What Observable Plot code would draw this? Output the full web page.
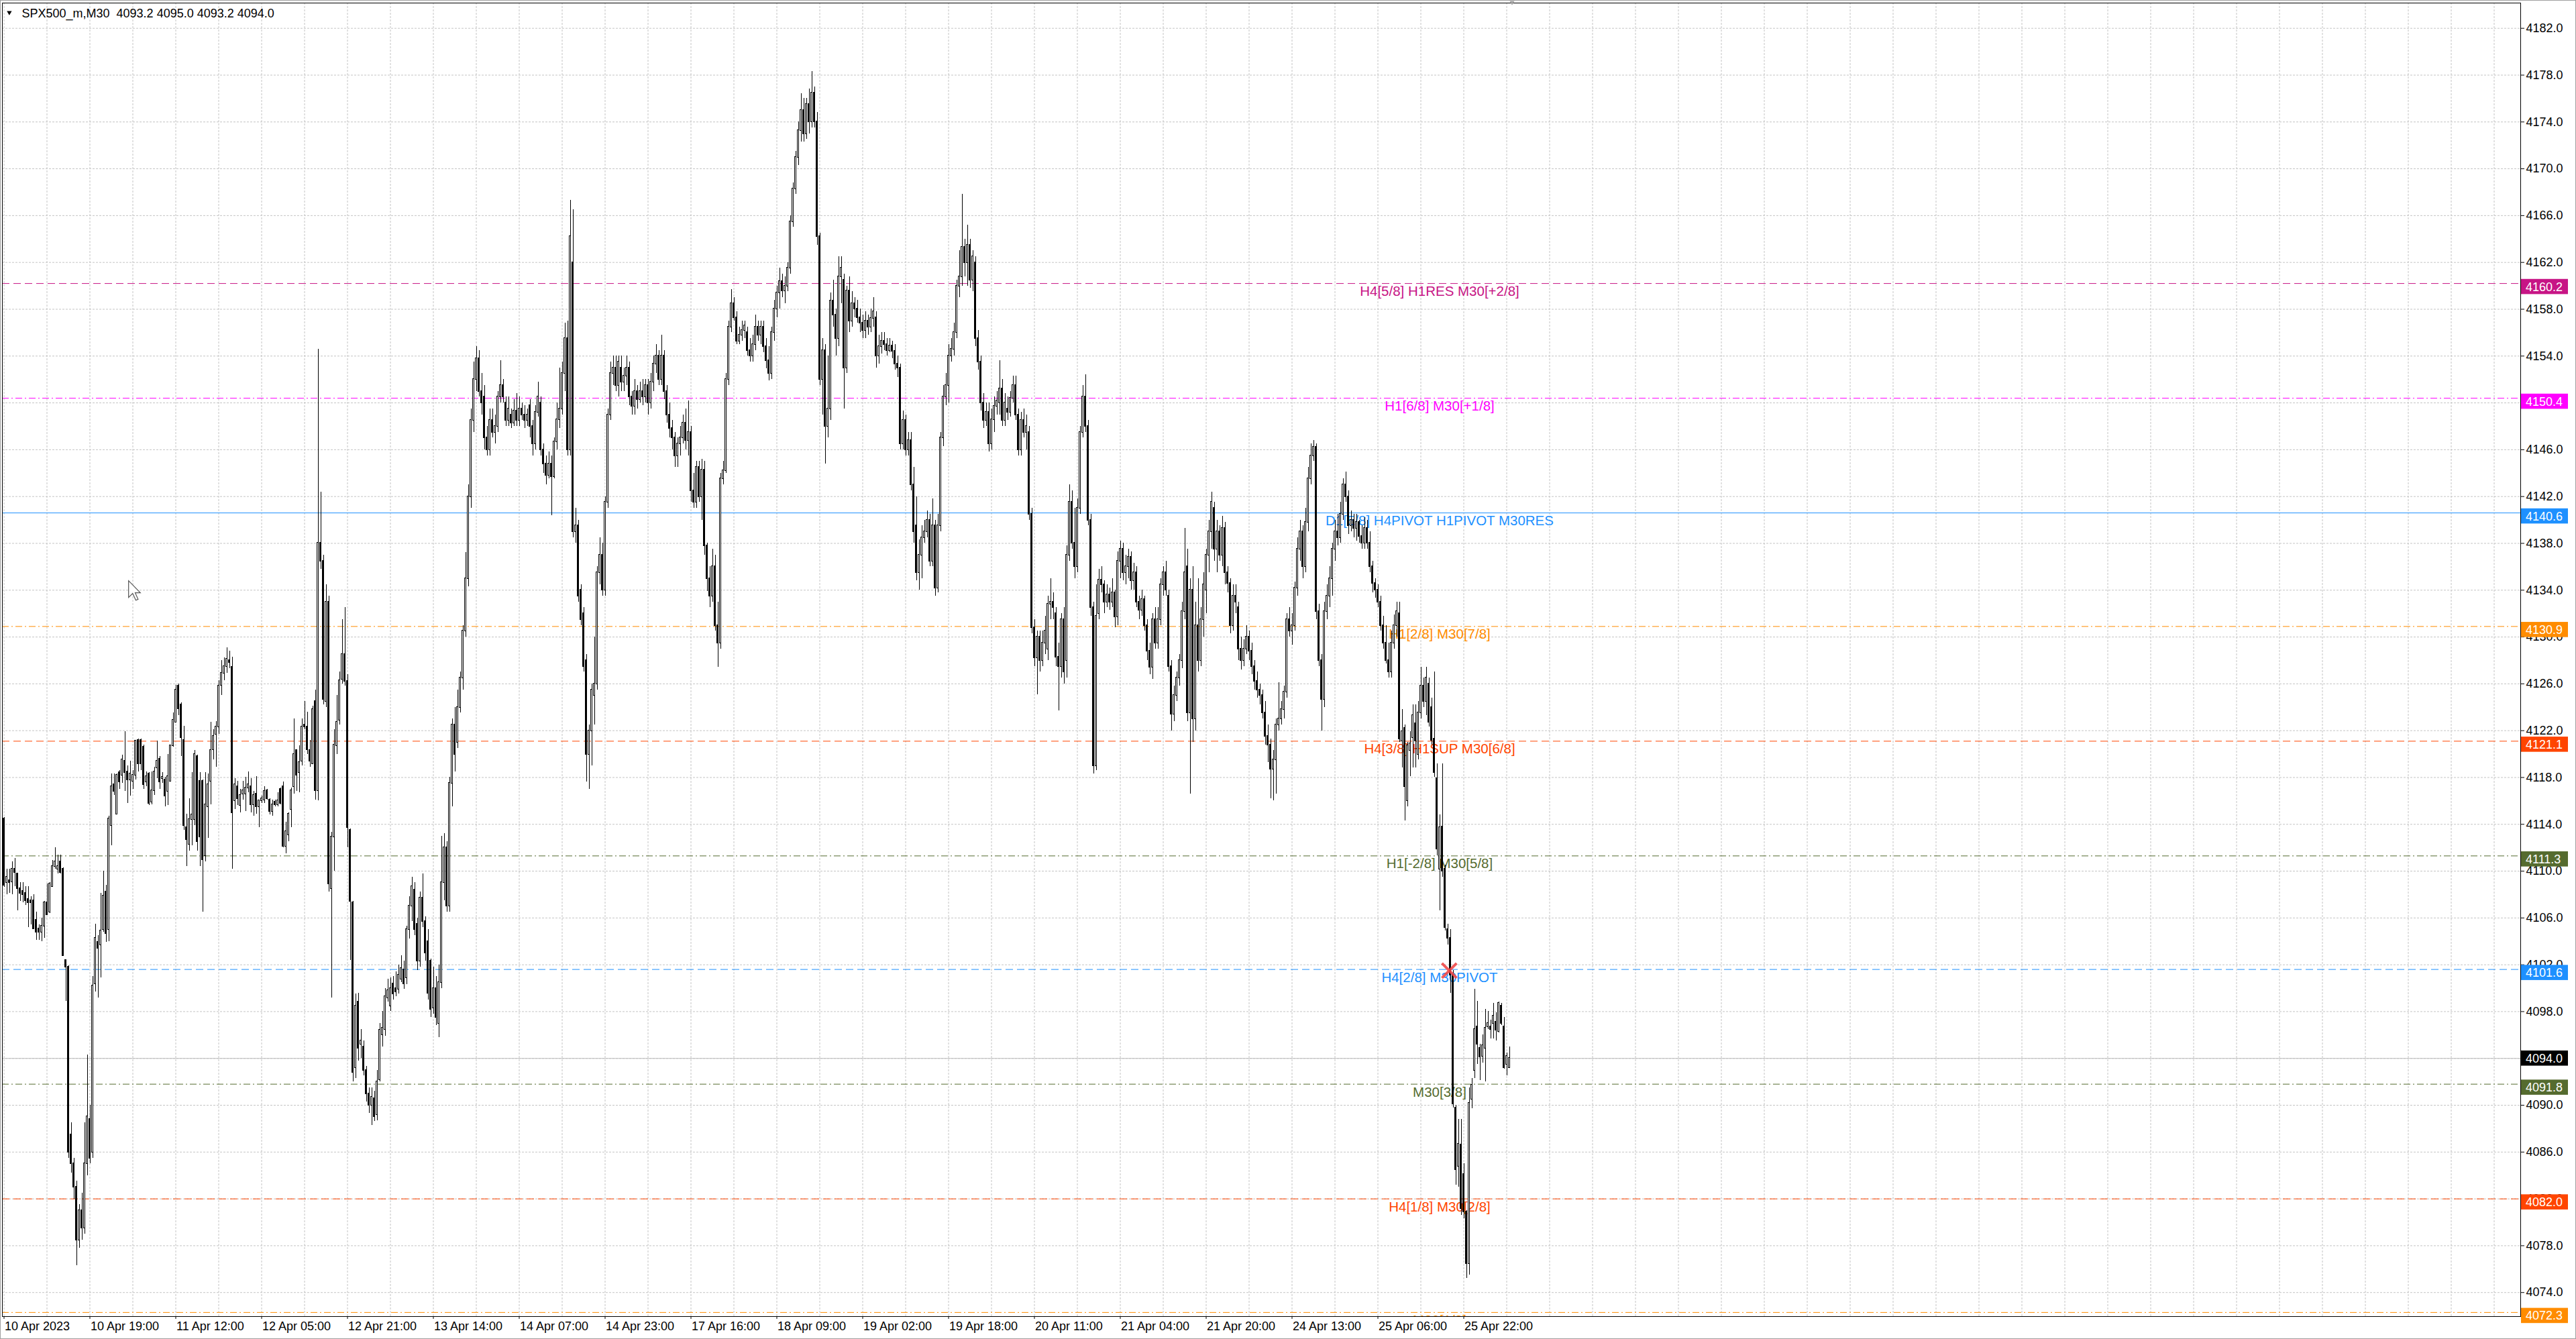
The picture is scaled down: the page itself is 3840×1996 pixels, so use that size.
<!DOCTYPE html>
<html><head><meta charset="utf-8">
<script src="https://cdn.jsdelivr.net/npm/d3@7"></script>
<script src="https://cdn.jsdelivr.net/npm/@observablehq/plot@0.6"></script>
<style>
html,body{margin:0;padding:0;background:#fff;}
#wrap{position:relative;width:3840px;height:1996px;overflow:hidden;background:#fff;}
#border{position:absolute;left:0;top:0;width:3838px;height:1994px;border:1px solid #a0a0a0;pointer-events:none;}
svg{display:block;}
</style></head><body><div id="wrap"><div id="border"></div></div>
<script>
// ---------- data (M30 bars) ----------
const open = [
4114.5,4109.0,4109.2,4109.1,4110.2,4109.8,4108.5,4108.3,4108.1,4107.6,
4107.5,4107.5,4105.8,4105.1,4104.8,4105.3,4107.3,4106.5,4108.7,4110.4,
4110.2,4110.8,4110.2,4102.4,4101.8,4087.5,4085.0,4083.0,4078.5,4081.0,
4079.5,4085.0,4088.8,4086.0,4100.4,4103.9,4103.7,4105.0,4108.2,4105.0,
4113.9,4117.4,4114.9,4118.4,4118.2,4119.4,4118.5,4117.8,4117.7,4118.2,
4121.2,4121.2,4120.6,4117.6,4118.3,4115.9,4116.9,4118.8,4119.6,4117.9,
4117.8,4116.8,4117.7,4120.7,4122.7,4125.8,4124.2,4121.2,4113.7,4112.3,
4114.4,4114.4,4119.8,4117.7,4117.7,4111.3,4115.5,4117.7,4120.4,4121.7,
4122.3,4125.9,4126.9,4127.5,4128.0,4127.4,4116.0,4117.2,4115.6,4116.6,
4116.6,4117.1,4117.2,4115.7,4116.6,4115.5,4116.0,4116.1,4116.9,4116.1,
4115.1,4115.9,4115.7,4117.0,4117.2,4112.1,4113.1,4115.3,4117.2,4120.3,
4118.4,4119.4,4122.5,4122.3,4120.3,4119.2,4124.5,4116.9,4138.0,4136.5,
4124.5,4133.0,4108.5,4112.9,4120.7,4122.9,4126.4,4128.5,4126.2,4113.5,
4107.3,4093.2,4098.8,4095.2,4095.0,4093.0,4091.0,4090.0,4090.6,4089.2,
4092.2,4096.0,4096.5,4099.2,4098.5,4100.4,4100.0,4099.9,4100.8,4101.6,
4100.9,4105.0,4107.0,4108.4,4105.5,4102.3,4107.7,4105.7,4104.0,4102.3,
4098.3,4100.0,4097.0,4100.5,4109.0,4112.0,4107.0,4117.5,4122.5,4121.0,
4124.0,4126.5,4130.5,4135.0,4142.0,4148.5,4152.0,4153.8,4151.0,4150.5,
4147.0,4146.0,4148.5,4147.5,4148.0,4150.5,4151.5,4150.0,4148.5,4149.0,
4148.3,4149.3,4148.5,4149.5,4149.0,4148.5,4149.8,4148.0,4146.5,4149.2,
4150.0,4146.0,4144.8,4143.8,4144.8,4143.7,4146.7,4148.6,4149.5,4152.5,
4155.5,4146.0,4162.0,4139.0,4139.5,4134.0,4132.0,4128.0,4120.0,4122.0,
4125.0,4126.0,4135.5,4137.0,4134.0,4141.5,4149.0,4152.5,4153.0,4151.5,
4153.0,4151.8,4152.3,4153.0,4150.5,4149.7,4151.0,4150.3,4151.0,4150.5,
4151.5,4150.0,4151.8,4153.3,4154.0,4152.0,4154.0,4151.0,4149.0,4147.8,
4147.0,4145.5,4146.5,4147.0,4148.3,4146.8,4147.5,4142.5,4141.5,4144.5,
4142.0,4144.3,4137.8,4135.0,4133.5,4136.0,4131.0,4129.5,4143.5,4144.2,
4152.0,4156.5,4158.5,4157.3,4155.3,4155.8,4156.2,4156.0,4154.5,4154.0,
4155.0,4156.5,4155.8,4156.5,4154.8,4153.6,4152.5,4156.0,4158.0,4159.4,
4160.4,4159.6,4160.0,4161.5,4165.5,4168.3,4171.0,4173.3,4175.0,4173.0,
4175.5,4174.0,4176.5,4174.0,4164.2,4152.0,4154.5,4148.0,4149.5,4158.7,
4157.5,4155.5,4160.8,4160.5,4153.0,4159.6,4157.0,4158.5,4158.0,4157.3,
4156.8,4156.2,4157.0,4156.5,4157.2,4157.3,4154.0,4154.8,4155.3,4155.0,
4154.5,4154.9,4154.4,4153.3,4153.0,4146.5,4148.5,4146.0,4146.8,4143.0,
4139.5,4135.5,4137.0,4138.5,4139.0,4140.0,4136.5,4139.5,4134.2,4139.5,
4147.0,4150.5,4151.5,4154.0,4154.6,4156.0,4160.0,4160.8,4163.3,4162.0,
4163.5,4160.5,4162.0,4155.5,4153.5,4150.0,4148.5,4149.2,4146.5,4148.6,
4149.7,4150.0,4151.2,4148.5,4149.5,4149.2,4150.4,4151.5,4149.0,4146.0,
4148.5,4147.5,4147.5,4140.5,4130.8,4128.2,4130.0,4128.0,4129.5,4129.0,
4132.8,4133.0,4132.0,4128.3,4127.5,4131.5,4128.0,4137.0,4141.5,4138.0,
4136.0,4141.0,4147.5,4150.5,4148.0,4140.0,4132.5,4119.0,4132.0,4134.9,
4134.5,4133.0,4133.6,4133.0,4133.8,4131.7,4136.5,4137.5,4135.5,4136.0,
4136.8,4134.8,4135.5,4133.0,4132.3,4133.2,4131.0,4128.8,4127.4,4131.5,
4129.5,4131.5,4134.5,4135.5,4133.5,4127.5,4123.4,4125.0,4126.5,4128.0,
4132.2,4136.0,4123.5,4134.0,4123.0,4131.0,4128.0,4131.5,4134.0,4137.0,
4139.0,4141.0,4137.5,4139.0,4137.0,4139.3,4135.5,4134.6,4131.0,4133.5,
4132.5,4129.0,4128.0,4129.0,4130.0,4128.8,4127.5,4126.2,4125.5,4125.0,
4123.5,4121.5,4120.8,4118.7,4119.5,4122.5,4123.0,4123.8,4125.3,4131.5,
4130.5,4131.0,4134.2,4137.5,4139.0,4136.0,4139.8,4143.5,4145.5,4146.2,
4132.2,4128.0,4124.7,4132.2,4133.5,4135.0,4137.5,4139.0,4138.5,4140.5,
4143.0,4142.0,4139.5,4140.0,4139.3,4139.8,4138.6,4138.0,4139.3,4138.0,
4136.0,4134.6,4134.0,4133.0,4131.0,4129.5,4128.0,4127.0,4129.5,4131.0,
4132.0,4121.1,4122.2,4116.0,4120.3,4121.4,4122.6,4120.0,4123.5,4125.8,
4124.5,4126.0,4124.0,4121.3,4117.9,4110.2,4113.8,4110.2,4105.0,4104.3,
4101.1,4089.8,4084.8,4086.6,4084.1,4080.9,4076.5,4090.5,4093.0,4096.7,
4094.9,4094.2,4094.9,4096.7,4096.7,4097.0,4097.1,4096.3,4098.5,4096.7,
4093.5,4093.2];
const high = [
4114.6,4110.2,4110.2,4110.8,4111.1,4109.8,4109.0,4109.0,4108.7,4108.7,
4107.8,4108.0,4106.5,4105.4,4106.0,4107.4,4108.9,4109.0,4110.9,4112.0,
4111.4,4111.4,4110.3,4102.4,4101.9,4088.5,4085.5,4083.5,4081.5,4082.5,
4088.5,4094.3,4090.0,4101.0,4105.5,4104.5,4108.1,4110.0,4108.8,4114.7,
4118.3,4118.3,4118.3,4118.6,4119.9,4121.9,4119.0,4119.4,4118.6,4121.2,
4121.3,4121.3,4120.8,4118.5,4118.4,4118.5,4118.9,4121.1,4119.8,4118.4,
4118.0,4120.0,4120.8,4123.5,4125.9,4126.0,4124.4,4122.4,4114.9,4116.2,
4118.4,4120.3,4119.9,4118.4,4117.8,4118.4,4118.3,4122.7,4122.1,4122.8,
4126.3,4128.0,4128.2,4129.1,4128.8,4128.3,4117.9,4117.7,4117.0,4117.7,
4118.0,4118.5,4117.9,4116.8,4118.1,4116.0,4116.4,4117.2,4117.0,4116.2,
4116.1,4116.1,4116.7,4117.1,4117.6,4114.2,4115.0,4117.1,4123.0,4120.4,
4120.7,4123.0,4124.5,4123.6,4121.2,4124.1,4125.5,4154.6,4142.4,4137.0,
4134.5,4133.5,4113.3,4122.1,4125.0,4127.0,4131.5,4132.5,4126.8,4113.6,
4107.4,4099.5,4099.6,4096.5,4095.5,4093.3,4091.5,4091.5,4091.2,4093.0,
4097.0,4098.0,4100.0,4100.8,4100.9,4101.0,4101.4,4102.0,4102.8,4102.3,
4105.3,4107.8,4109.5,4109.0,4106.0,4108.2,4109.8,4106.1,4105.0,4102.5,
4101.8,4101.0,4102.0,4113.0,4113.2,4112.5,4118.0,4123.0,4124.0,4125.5,
4127.0,4131.0,4137.2,4143.0,4149.5,4153.5,4154.8,4154.5,4152.5,4151.5,
4148.0,4149.5,4149.5,4149.0,4151.0,4153.6,4152.0,4150.5,4150.5,4149.5,
4150.3,4150.8,4150.5,4150.0,4149.8,4149.5,4150.3,4148.5,4149.8,4151.8,
4150.5,4146.5,4145.5,4145.8,4145.5,4147.0,4150.0,4153.0,4153.5,4156.8,
4157.0,4167.3,4166.5,4141.0,4140.0,4134.5,4132.5,4128.5,4122.5,4126.0,
4130.0,4136.0,4138.5,4138.0,4142.0,4149.5,4153.5,4154.0,4154.0,4154.0,
4154.0,4153.0,4154.0,4153.5,4151.0,4152.0,4151.5,4151.8,4152.0,4152.0,
4152.0,4152.5,4154.0,4155.0,4154.5,4155.8,4154.5,4151.5,4150.0,4148.5,
4147.5,4147.0,4148.0,4149.0,4149.5,4150.2,4148.0,4144.0,4145.0,4145.0,
4145.2,4145.0,4138.0,4136.0,4137.5,4137.0,4133.0,4144.0,4145.0,4152.5,
4157.0,4159.7,4159.0,4157.8,4156.5,4157.0,4157.0,4156.5,4155.5,4155.8,
4157.5,4157.0,4157.0,4157.0,4155.5,4154.8,4156.5,4158.8,4160.0,4161.5,
4161.0,4160.8,4162.0,4166.0,4168.8,4171.5,4174.0,4176.4,4176.0,4176.0,
4176.8,4178.3,4177.0,4174.8,4164.5,4155.5,4155.0,4154.0,4159.4,4160.5,
4158.0,4162.5,4162.5,4161.0,4160.0,4160.8,4159.5,4159.0,4158.8,4158.0,
4157.5,4157.8,4157.5,4158.0,4159.0,4157.8,4155.8,4156.0,4156.0,4155.5,
4155.5,4155.3,4155.0,4154.0,4153.3,4149.3,4149.0,4147.5,4147.5,4144.5,
4142.0,4138.3,4139.5,4140.0,4140.8,4140.5,4141.8,4140.0,4140.5,4147.5,
4151.5,4152.5,4155.0,4155.5,4156.8,4160.5,4163.0,4167.8,4164.0,4165.2,
4164.0,4163.0,4162.5,4156.2,4154.0,4150.8,4150.0,4150.0,4149.5,4150.5,
4151.0,4153.6,4152.0,4150.8,4150.5,4151.0,4152.3,4152.3,4149.5,4149.2,
4149.5,4149.0,4148.0,4141.0,4131.5,4130.5,4130.5,4130.5,4131.8,4133.5,
4135.0,4133.8,4132.5,4129.5,4132.0,4132.5,4137.8,4143.0,4142.5,4141.0,
4141.8,4148.0,4151.5,4152.4,4148.5,4140.5,4133.0,4134.5,4135.8,4136.0,
4134.8,4134.5,4134.2,4135.0,4134.0,4137.3,4138.2,4138.0,4137.0,4137.5,
4137.3,4136.3,4136.0,4133.5,4134.0,4133.5,4131.5,4129.5,4132.0,4132.5,
4132.5,4135.0,4136.0,4136.5,4134.0,4128.0,4125.8,4127.0,4128.5,4133.0,
4139.3,4137.5,4135.0,4136.0,4133.0,4135.0,4132.5,4135.5,4137.5,4140.0,
4142.4,4141.5,4140.0,4139.5,4140.3,4139.8,4136.0,4135.0,4134.5,4134.5,
4133.0,4130.0,4129.8,4131.0,4130.5,4129.5,4128.0,4127.0,4126.0,4125.5,
4124.5,4122.5,4121.3,4120.3,4123.0,4126.1,4124.5,4125.8,4132.0,4132.5,
4132.0,4134.7,4138.5,4140.0,4139.5,4141.0,4144.5,4146.5,4146.8,4146.5,
4132.8,4128.5,4133.0,4134.5,4136.0,4138.0,4140.0,4140.5,4141.5,4143.5,
4144.1,4142.5,4140.8,4140.5,4140.5,4140.0,4139.5,4140.2,4140.0,4139.0,
4136.5,4135.0,4134.5,4133.5,4131.8,4131.0,4129.5,4130.5,4131.9,4133.0,
4133.0,4123.8,4122.5,4121.0,4121.9,4124.2,4124.2,4124.5,4127.4,4126.5,
4127.4,4126.5,4124.8,4127.0,4119.2,4114.8,4119.2,4110.5,4105.5,4105.0,
4101.5,4090.0,4088.8,4088.8,4085.0,4081.0,4091.5,4092.3,4099.9,4098.9,
4095.2,4096.0,4098.2,4098.0,4097.3,4098.7,4097.9,4098.8,4098.7,4097.5,
4094.5,4095.0];
const low = [
4108.6,4108.0,4108.1,4108.0,4108.7,4106.6,4107.4,4107.3,4107.1,4105.2,
4105.4,4105.0,4104.1,4104.1,4104.0,4104.3,4106.2,4106.4,4108.7,4110.2,
4109.8,4109.8,4102.7,4098.9,4085.5,4084.2,4082.0,4076.3,4077.8,4078.5,
4079.0,4084.0,4085.0,4085.5,4099.7,4099.2,4100.9,4104.8,4103.9,4104.0,
4112.2,4116.5,4114.8,4117.0,4117.5,4116.8,4115.8,4116.4,4117.0,4117.8,
4118.5,4118.6,4117.0,4117.2,4115.6,4115.7,4116.5,4117.9,4117.0,4117.5,
4115.5,4115.6,4117.6,4120.6,4122.7,4123.3,4119.8,4113.5,4110.4,4111.7,
4112.2,4113.9,4111.7,4110.4,4106.5,4110.8,4112.8,4115.7,4119.5,4118.9,
4121.7,4125.0,4126.3,4126.9,4127.3,4110.2,4115.3,4115.6,4115.0,4116.1,
4115.1,4116.7,4115.0,4114.7,4114.9,4113.7,4115.8,4115.8,4116.1,4114.8,
4114.7,4115.5,4115.5,4115.7,4112.0,4111.5,4112.5,4113.7,4116.6,4116.8,
4116.7,4119.0,4122.1,4120.0,4118.9,4119.1,4116.1,4116.0,4135.8,4124.2,
4124.0,4108.2,4099.2,4110.0,4120.0,4122.5,4126.0,4125.8,4112.0,4102.4,
4092.0,4092.3,4093.8,4094.0,4092.5,4090.3,4089.3,4088.3,4088.6,4088.7,
4092.0,4095.0,4095.9,4098.8,4098.0,4099.0,4099.3,4099.5,4100.5,4099.9,
4100.3,4104.2,4105.7,4104.5,4101.5,4101.8,4105.2,4102.3,4099.0,4097.5,
4097.8,4096.8,4095.8,4100.0,4107.5,4106.5,4106.5,4115.5,4118.5,4120.5,
4123.5,4125.5,4130.0,4134.3,4141.0,4147.5,4151.0,4150.5,4149.0,4146.0,
4145.5,4145.5,4147.0,4146.5,4147.5,4150.0,4150.0,4148.0,4148.0,4147.8,
4148.0,4148.0,4148.0,4148.5,4147.8,4148.0,4147.0,4145.5,4146.0,4148.8,
4145.5,4144.0,4143.0,4143.5,4140.4,4143.5,4146.0,4147.8,4149.0,4151.0,
4145.5,4145.5,4138.5,4138.0,4133.0,4131.0,4127.0,4117.6,4117.0,4119.0,
4122.5,4125.5,4134.5,4133.5,4133.5,4141.0,4148.5,4151.5,4151.0,4150.5,
4151.0,4151.0,4151.5,4149.8,4149.0,4149.0,4149.5,4150.0,4149.8,4150.0,
4149.0,4149.5,4151.0,4152.5,4151.5,4151.5,4150.3,4148.3,4147.0,4146.0,
4144.5,4144.5,4145.5,4146.5,4146.0,4145.5,4141.5,4141.0,4141.0,4141.5,
4140.0,4137.0,4133.9,4132.5,4133.0,4130.5,4127.4,4129.0,4143.0,4144.0,
4151.5,4156.0,4157.0,4155.0,4155.0,4155.3,4155.5,4154.0,4153.5,4153.5,
4154.5,4155.3,4155.0,4154.3,4152.9,4151.9,4152.0,4155.3,4157.3,4158.0,
4159.0,4158.5,4159.5,4161.0,4165.0,4167.8,4170.3,4172.3,4172.3,4172.5,
4173.0,4173.5,4173.5,4163.5,4151.5,4149.0,4144.8,4147.0,4148.5,4156.5,
4154.0,4154.8,4158.5,4149.5,4152.5,4156.0,4156.5,4157.3,4156.8,4156.0,
4155.5,4155.5,4155.8,4156.0,4156.5,4153.0,4153.3,4154.2,4154.5,4154.0,
4154.3,4153.8,4152.8,4152.2,4146.0,4146.0,4145.5,4145.5,4142.5,4138.0,
4134.8,4134.0,4135.0,4138.0,4138.5,4136.0,4136.0,4133.5,4133.8,4139.0,
4146.3,4149.8,4150.0,4153.5,4154.0,4155.5,4159.0,4160.0,4160.8,4160.0,
4159.8,4159.5,4154.8,4152.8,4149.3,4147.8,4148.0,4145.8,4146.0,4147.5,
4149.0,4149.0,4148.0,4148.0,4148.5,4148.8,4150.0,4148.5,4145.5,4145.5,
4147.0,4146.0,4140.0,4130.3,4127.5,4125.1,4127.0,4127.5,4128.5,4128.0,
4131.5,4131.5,4127.5,4123.7,4126.5,4126.0,4126.5,4136.5,4137.5,4135.0,
4135.5,4140.5,4147.0,4147.5,4139.5,4131.8,4118.3,4118.6,4131.5,4133.8,
4132.0,4132.5,4132.3,4132.5,4130.8,4131.0,4135.0,4134.8,4134.5,4135.0,
4134.0,4134.0,4132.5,4131.5,4131.8,4130.5,4128.0,4126.8,4126.4,4129.0,
4129.0,4131.0,4133.5,4133.5,4127.0,4122.0,4122.8,4124.5,4125.8,4127.3,
4131.5,4122.8,4116.6,4121.0,4122.0,4127.0,4127.5,4130.0,4132.0,4135.5,
4137.5,4136.5,4135.5,4136.5,4136.0,4134.5,4133.8,4130.3,4130.5,4132.0,
4128.0,4127.2,4127.5,4128.5,4128.0,4126.8,4125.5,4124.8,4124.2,4123.0,
4120.8,4119.3,4116.2,4116.0,4116.6,4122.0,4122.5,4123.0,4124.8,4130.0,
4129.3,4130.5,4133.5,4136.5,4135.0,4135.5,4139.0,4143.0,4145.0,4131.5,
4127.5,4122.0,4124.0,4131.5,4132.5,4133.5,4136.5,4137.8,4138.0,4140.0,
4141.5,4138.8,4139.0,4138.5,4138.2,4138.0,4137.5,4137.5,4137.5,4135.5,
4133.8,4133.3,4132.5,4130.5,4129.0,4127.7,4126.5,4126.5,4129.0,4130.0,
4121.0,4118.8,4114.3,4115.5,4118.1,4118.8,4118.8,4119.5,4123.0,4124.0,
4123.3,4122.3,4120.8,4118.0,4111.3,4106.6,4109.5,4104.9,4103.7,4099.6,
4089.8,4083.2,4083.0,4080.6,4080.3,4075.2,4075.5,4089.7,4092.3,4093.5,
4092.1,4093.6,4092.0,4096.5,4095.7,4095.7,4095.5,4096.2,4096.8,4093.1,
4092.5,4093.2];
const close = [
4108.8,4109.5,4109.0,4110.2,4109.9,4108.5,4108.1,4108.0,4107.5,4107.3,
4107.3,4105.1,4104.8,4104.8,4105.3,4107.3,4106.3,4108.9,4110.4,4110.8,
4110.4,4109.9,4102.8,4101.8,4086.0,4085.0,4083.0,4078.5,4081.0,4079.5,
4085.0,4089.0,4085.5,4100.2,4104.3,4103.4,4104.9,4107.9,4104.7,4114.5,
4117.2,4116.8,4118.2,4117.6,4119.5,4118.4,4117.8,4118.3,4118.2,4121.1,
4119.2,4119.2,4117.4,4118.1,4115.8,4116.9,4118.5,4119.4,4117.6,4118.0,
4116.4,4118.1,4120.7,4122.9,4125.5,4123.9,4121.4,4113.9,4112.7,4114.4,
4114.8,4120.0,4112.5,4112.9,4111.0,4115.7,4117.4,4120.3,4121.5,4122.3,
4125.8,4126.9,4127.5,4128.1,4127.8,4115.0,4117.4,4116.2,4116.5,4116.9,
4117.1,4117.4,4115.7,4116.5,4115.5,4116.0,4116.2,4116.8,4116.2,4115.1,
4115.7,4115.7,4116.0,4115.8,4112.1,4113.4,4114.9,4116.9,4120.0,4118.2,
4119.3,4122.3,4122.3,4120.4,4119.4,4123.8,4116.9,4138.0,4136.5,4124.7,
4133.0,4108.9,4112.9,4120.8,4122.7,4126.3,4128.5,4126.2,4113.7,4107.4,
4092.8,4098.5,4094.9,4095.5,4093.0,4091.0,4090.0,4090.7,4089.0,4092.0,
4096.4,4096.6,4099.3,4099.8,4100.0,4099.5,4099.7,4101.1,4101.7,4100.4,
4105.0,4107.0,4108.7,4105.0,4102.3,4107.7,4105.7,4103.0,4099.6,4098.2,
4100.0,4097.5,4100.5,4109.0,4112.0,4107.0,4117.5,4122.5,4120.0,4124.0,
4126.5,4130.5,4135.0,4142.0,4148.5,4152.0,4153.8,4151.0,4150.0,4147.0,
4146.0,4148.5,4147.5,4148.0,4150.5,4151.5,4150.5,4148.5,4149.5,4148.3,
4149.3,4148.5,4149.5,4149.0,4148.5,4149.0,4148.0,4146.5,4149.2,4150.5,
4146.0,4144.8,4143.8,4144.8,4143.7,4146.7,4148.6,4149.5,4152.5,4155.5,
4146.0,4164.2,4139.0,4139.5,4133.5,4131.5,4127.5,4120.0,4122.0,4125.5,
4126.0,4135.5,4137.0,4134.0,4141.5,4149.0,4152.5,4153.0,4151.5,4153.5,
4151.8,4152.3,4153.0,4150.5,4149.7,4151.0,4150.3,4151.0,4150.5,4151.5,
4150.0,4151.8,4153.3,4154.0,4152.0,4154.0,4151.0,4149.0,4147.8,4147.0,
4145.5,4146.5,4147.0,4148.3,4146.8,4147.5,4142.5,4141.5,4144.5,4142.0,
4144.3,4137.8,4135.0,4133.5,4136.0,4131.0,4129.5,4143.5,4144.2,4152.0,
4156.5,4158.5,4157.3,4155.3,4155.8,4156.2,4156.6,4154.5,4154.0,4155.0,
4156.5,4155.8,4156.5,4154.8,4153.6,4152.5,4156.0,4158.0,4159.4,4160.4,
4159.6,4160.0,4161.5,4165.5,4168.3,4171.0,4173.3,4175.0,4173.0,4175.5,
4174.0,4176.5,4174.0,4164.2,4152.0,4154.5,4148.0,4149.5,4158.7,4157.5,
4155.5,4160.8,4161.5,4153.0,4159.6,4157.0,4158.5,4158.0,4157.3,4156.8,
4156.2,4157.0,4156.5,4157.2,4157.8,4154.0,4154.8,4155.3,4155.0,4154.5,
4154.9,4154.4,4153.3,4153.0,4146.5,4148.5,4146.0,4146.8,4143.0,4139.0,
4135.5,4137.0,4138.5,4139.0,4140.0,4136.5,4139.5,4134.2,4139.5,4147.0,
4150.5,4151.5,4154.0,4154.6,4156.0,4160.0,4160.8,4163.3,4162.0,4163.5,
4160.5,4162.5,4155.5,4153.5,4150.0,4148.5,4149.2,4146.5,4148.6,4149.7,
4150.2,4151.2,4148.5,4150.0,4149.2,4150.4,4151.5,4149.0,4146.0,4148.5,
4147.5,4148.0,4140.5,4130.8,4128.2,4130.0,4128.0,4129.5,4130.5,4132.8,
4133.0,4132.5,4128.3,4127.5,4131.5,4127.0,4137.0,4141.5,4138.0,4136.0,
4141.0,4147.5,4150.5,4148.0,4140.0,4132.5,4119.0,4131.8,4134.9,4134.5,
4133.0,4133.6,4133.0,4133.8,4131.7,4136.5,4137.5,4135.5,4136.0,4136.8,
4134.8,4135.5,4133.0,4132.3,4133.2,4131.0,4128.8,4127.4,4131.5,4129.5,
4131.5,4134.5,4135.5,4134.0,4127.5,4123.4,4125.0,4126.5,4128.0,4132.2,
4135.5,4123.5,4134.0,4123.0,4131.0,4128.0,4131.5,4134.5,4137.0,4139.0,
4141.5,4137.5,4139.0,4137.0,4139.3,4135.5,4134.6,4131.0,4133.5,4133.0,
4129.0,4128.0,4129.0,4130.0,4128.8,4127.5,4126.2,4125.5,4125.0,4123.5,
4121.5,4120.8,4118.7,4119.5,4122.5,4123.0,4123.8,4125.3,4131.5,4130.5,
4131.0,4134.2,4137.5,4139.0,4136.0,4139.8,4143.5,4145.5,4146.2,4132.2,
4128.0,4124.7,4132.2,4133.5,4135.0,4137.5,4139.0,4138.5,4140.5,4143.0,
4142.0,4139.5,4140.0,4139.3,4139.8,4138.6,4138.0,4139.3,4138.0,4136.0,
4134.6,4134.0,4133.0,4131.0,4129.5,4128.0,4127.0,4129.5,4131.0,4132.2,
4121.3,4121.9,4117.2,4120.7,4120.9,4123.3,4121.1,4123.5,4125.8,4124.5,
4126.5,4122.7,4121.2,4118.4,4111.9,4113.7,4110.0,4105.2,4104.3,4101.1,
4090.1,4084.5,4086.7,4081.2,4080.9,4076.5,4090.2,4091.7,4096.5,4095.2,
4094.1,4095.1,4096.6,4097.0,4096.5,4097.6,4096.4,4098.7,4097.0,4093.2,
4094.2,4094.0];

// time-axis labels, one every 32 bars
const timeLabels = ["10 Apr 2023","10 Apr 19:00","11 Apr 12:00","12 Apr 05:00","12 Apr 21:00",
  "13 Apr 14:00","14 Apr 07:00","14 Apr 23:00","17 Apr 16:00","18 Apr 09:00","19 Apr 02:00",
  "19 Apr 18:00","20 Apr 11:00","21 Apr 04:00","21 Apr 20:00","24 Apr 13:00","25 Apr 06:00","25 Apr 22:00"];
// price-axis ticks
const priceTicks = [4074,4078,4082,4086,4090,4094,4098,4102,4106,4110,4114,4118,4122,4126,
  4130,4134,4138,4142,4146,4150,4154,4158,4162,4166,4170,4174,4178,4182];

// Murrey-math style levels
const levelPrices = [4160.2, 4150.4, 4140.6, 4130.9, 4121.1, 4111.3, 4101.6, 4091.8, 4082.0, 4072.3];
const levelColors = ["#C71585","#FF00FF","#1E90FF","#FF8C00","#FF4500","#556B2F","#1E90FF","#556B2F","#FF4500","#FF8C00"];
const levelStyles = ["dash","dashdot","solid","dashdot","dash","dashdot","dash","dashdot","dash","dashdot"];
const levelLabels = ["H4[5/8] H1RES M30[+2/8]","H1[6/8] M30[+1/8]","D1[5/8] H4PIVOT H1PIVOT M30RES",
  "H1[2/8] M30[7/8]","H4[3/8] H1SUP M30[6/8]","H1[-2/8] M30[5/8]","H4[2/8] M30PIVOT","M30[3/8]",
  "H4[1/8] M30[2/8]","M30[1/8]"];
const bidPrice = [4094.0];
const crossMarker = [{bar: 538.6, price: 4101.5}];
const symbolName = "SPX500_m,M30";
const lastQuote = ["4093.2","4095.0","4093.2","4094.0"];

// ---------- build ----------
const N = close.length;
if (open.length !== N || high.length !== N || low.length !== N)
  throw new Error(`length mismatch o${open.length} h${high.length} l${low.length} c${close.length}`);
const bars = close.map((c, i) => ({i, o: open[i], h: high[i], l: low[i], c}));
const levels = levelPrices.map((p, k) => ({price: p, color: levelColors[k], style: levelStyles[k], label: levelLabels[k]}));
const DASH = {solid: null, dash: "11,6", dashdot: "10,4,2,4"};
const LABEL_STEP = 32, GRID_STEP = 16, LABEL_BAR = 535;
const W = 3840, H = 1996, ML = 3, MR = 83, MT = 4, MB = 34;
const X_DOMAIN = [-0.625, 937.875];
const Y_DOMAIN = [4071.95, 4184.16];
const xTicks = timeLabels.map((_, k) => k * LABEL_STEP);
const xGrid = d3.range(0, X_DOMAIN[1], GRID_STEP);
const FONT = "Liberation Sans, Arial, sans-serif";
const CURSOR_AT = [191, 865]; // screen pointer left in the screenshot

function priceBoxes(index, scales, values, dims) {
  const g = d3.create("svg:g").attr("font-family", FONT).attr("font-size", 18).attr("text-anchor", "start");
  const x0 = dims.width - dims.marginRight + 1;
  const items = levels.map(d => ({price: d.price, color: d.color, top: -6.3, bottom: 16.3}))
    .concat(bidPrice.map(p => ({price: p, color: "black", top: -11.3, bottom: 11.3})));
  for (const it of items) {
    const y = scales.y(it.price);
    g.append("rect").attr("x", x0).attr("y", y + it.top).attr("width", 70)
      .attr("height", it.bottom - it.top).attr("fill", it.color);
    g.append("text").attr("x", x0 + 7).attr("y", y + (it.top + it.bottom) / 2).attr("dy", "0.36em")
      .attr("text-anchor", "start").attr("fill", "white").text(it.price.toFixed(1));
  }
  return g.node();
}
function pointer() {
  const g = d3.create("svg:g").attr("transform", `translate(${CURSOR_AT[0]},${CURSOR_AT[1]}) scale(1.35)`);
  g.append("path").attr("d", "M0.5,0.5 L0.5,19 L5,14.5 L8.5,22 L11,21 L7.8,13.8 L13.5,13.8 Z")
    .attr("fill", "white").attr("stroke", "#555").attr("stroke-width", 0.9);
  return g.node();
}

const chart = Plot.plot({
  width: W, height: H,
  marginLeft: ML, marginRight: MR, marginTop: MT, marginBottom: MB,
  style: {fontFamily: FONT, fontSize: "18px", background: "white", color: "black", overflow: "visible"},
  color: {type: "identity"},
  x: {domain: X_DOMAIN, ticks: xTicks, tickSize: 4, tickFormat: () => "", label: null, axis: "bottom"},
  y: {domain: Y_DOMAIN, ticks: priceTicks, tickSize: 5, tickFormat: () => "", label: null, axis: "right"},
  marks: [
    // grid
    Plot.ruleY(priceTicks, {stroke: "#c4c4c4", strokeDasharray: "3,2"}),
    Plot.ruleX(xGrid, {stroke: "#c4c4c4", strokeDasharray: "3,2"}),
    // levels
    ...["solid", "dash", "dashdot"].map(s =>
      Plot.ruleY(levels.filter(d => d.style === s), {y: "price", stroke: "color", strokeDasharray: DASH[s]})),
    Plot.ruleY(bidPrice, {stroke: "#bdbdbd"}),
    Plot.text(levels, {x: () => LABEL_BAR, y: "price", text: "label", fill: "color",
      lineAnchor: "top", dy: 4, fontSize: 20.5, clip: true}),
    // candles
    Plot.ruleX(bars, {x: "i", y1: "l", y2: "h", stroke: "black", strokeWidth: 1, shapeRendering: "crispEdges"}),
    Plot.rect(bars, {x1: d => d.i - 0.25, x2: d => d.i + 0.25, y1: "o", y2: "c",
      fill: d => d.c >= d.o ? "white" : "black", stroke: "black", strokeWidth: 1,
      insetTop: -0.5, insetBottom: -0.5, shapeRendering: "crispEdges"}),
    Plot.dot(crossMarker, {x: "bar", y: "price", symbol: "times", r: 10, stroke: "#f04848", strokeWidth: 4, strokeOpacity: 0.9}),
    Plot.frame({stroke: "black"}),
    // price axis labels
    Plot.text(priceTicks, {y: d => d, text: d => d.toFixed(1), frameAnchor: "right", textAnchor: "start", dx: 8, fontSize: 18}),
    priceBoxes,
    // time axis labels
    Plot.text(xTicks, {x: d => d, text: (d, k) => timeLabels[k], frameAnchor: "bottom",
      textAnchor: "start", lineAnchor: "middle", dy: 15, dx: 1, fontSize: 18}),
    // header
    Plot.text([`${symbolName}\u00a0\u00a0${lastQuote.join(" ")}`], {frameAnchor: "top-left", dx: 29, dy: 15.5,
      textAnchor: "start", lineAnchor: "middle", fontSize: 18}),
    Plot.dot([0], {frameAnchor: "top-left", dx: 10.4, dy: 14, symbol: "triangle2", r: 3.5, rotate: 180, fill: "black"}),
    Plot.dot([N], {x: d => d, frameAnchor: "top", dy: -1, symbol: "triangle2", r: 3.5, rotate: 180, fill: "#a0a0a0"}),
    pointer
  ]
});
document.getElementById("wrap").prepend(chart);
</script></body></html>
